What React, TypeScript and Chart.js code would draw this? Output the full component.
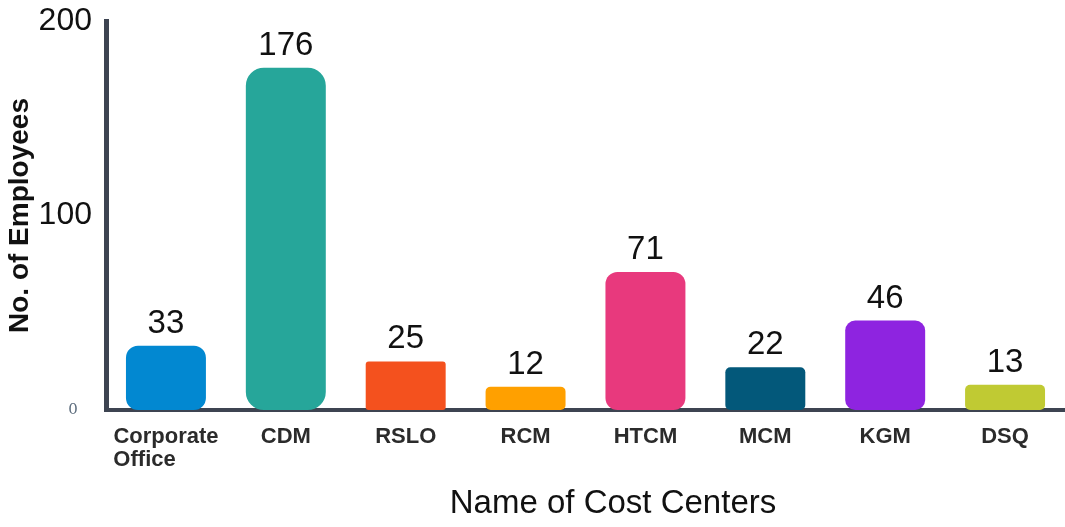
import React, { useEffect, useRef } from "react";
import { Chart, registerables } from "chart.js";

Chart.register(...registerables);

const categories: (string | string[])[] = [
  ["Corporate", "Office       "],
  "CDM",
  "RSLO",
  "RCM",
  "HTCM",
  "MCM",
  "KGM",
  "DSQ",
];
const employees: number[] = [33, 176, 25, 12, 71, 22, 46, 13];
const barColors: string[] = [
  "#0288d1",
  "#26a69a",
  "#f4511e",
  "#ffa000",
  "#e8397d",
  "#03587a",
  "#8e24e0",
  "#c0ca33",
];
const barRadii: number[] = [12, 18, 3, 5, 12, 5, 10, 5];
const yTicks: number[] = [0, 100, 200];

const valueLabels = {
  id: "valueLabels",
  afterDatasetsDraw(chart: any) {
    const { ctx } = chart;
    const meta = chart.getDatasetMeta(0);
    ctx.save();
    ctx.font = "33px 'Liberation Sans', Arial, sans-serif";
    ctx.fillStyle = "#111111";
    ctx.textAlign = "center";
    ctx.textBaseline = "alphabetic";
    meta.data.forEach((bar: any, i: number) => {
      ctx.fillText(String(employees[i]), bar.x, bar.y - 13);
    });
    ctx.restore();
  },
};

export default function App() {
  const canvasRef = useRef<HTMLCanvasElement | null>(null);

  useEffect(() => {
    if (!canvasRef.current) return;
    const chart = new Chart(canvasRef.current, {
      type: "bar",
      data: {
        labels: categories,
        datasets: [
          {
            data: employees,
            backgroundColor: barColors,
            borderRadius: barRadii,
            borderSkipped: false,
            barPercentage: 0.667,
            categoryPercentage: 1,
          },
        ],
      },
      plugins: [valueLabels],
      options: {
        animation: false,
        responsive: true,
        maintainAspectRatio: false,
        layout: { padding: { top: 21, right: 0, bottom: 0, left: 0 } },
        plugins: {
          legend: { display: false },
          tooltip: { enabled: false },
          title: { display: false },
        },
        scales: {
          x: {
            afterFit: (scale: any) => {
              scale.height = 117;
            },
            grid: { display: false, drawTicks: false },
            border: { display: true, color: "#3d4451", width: 4 },
            ticks: {
              padding: 15,
              color: "#2b2b2b",
              font: { family: "'Liberation Sans', Arial, sans-serif", size: 22, weight: "bold", lineHeight: 1.05 },
              maxRotation: 0,
              autoSkip: false,
            },
            title: {
              display: true,
              text: "      Name of Cost Centers",
              color: "#111111",
              font: { family: "'Liberation Sans', Arial, sans-serif", size: 33 },
              padding: { top: 0, bottom: 3 },
            },
          },
          y: {
            min: 0,
            max: 200,
            afterFit: (scale: any) => {
              scale.width = 106;
              scale.paddingTop = 0;
              scale.paddingBottom = 0;
            },
            afterBuildTicks: (scale: any) => {
              scale.ticks = yTicks.map((v) => ({ value: v }));
            },
            grid: { display: false, drawTicks: false },
            border: { display: true, color: "#3d4451", width: 5 },
            ticks: {
              padding: 14,
              callback: (v: any) => (v === 0 ? "0   " : String(v)),
              color: (c: any) => (c.tick && c.tick.value === 0 ? "#5d6d7e" : "#111111"),
              font: (c: any) =>
                c.tick && c.tick.value === 0
                  ? { family: "'DejaVu Serif', serif", size: 15 }
                  : { family: "'Liberation Sans', Arial, sans-serif", size: 32 },
            },
            title: {
              display: true,
              text: "No. of Employees",
              color: "#111111",
              font: { family: "'Liberation Sans', Arial, sans-serif", size: 28, weight: "bold" },
              padding: { top: 3, bottom: 0 },
            },
          },
        },
      },
    });
    return () => chart.destroy();
  }, []);

  return (
    <div
      style={{
        position: "absolute",
        left: 0,
        top: 0,
        width: 1065,
        height: 527,
        background: "#ffffff",
      }}
    >
      <canvas ref={canvasRef} />
    </div>
  );
}
